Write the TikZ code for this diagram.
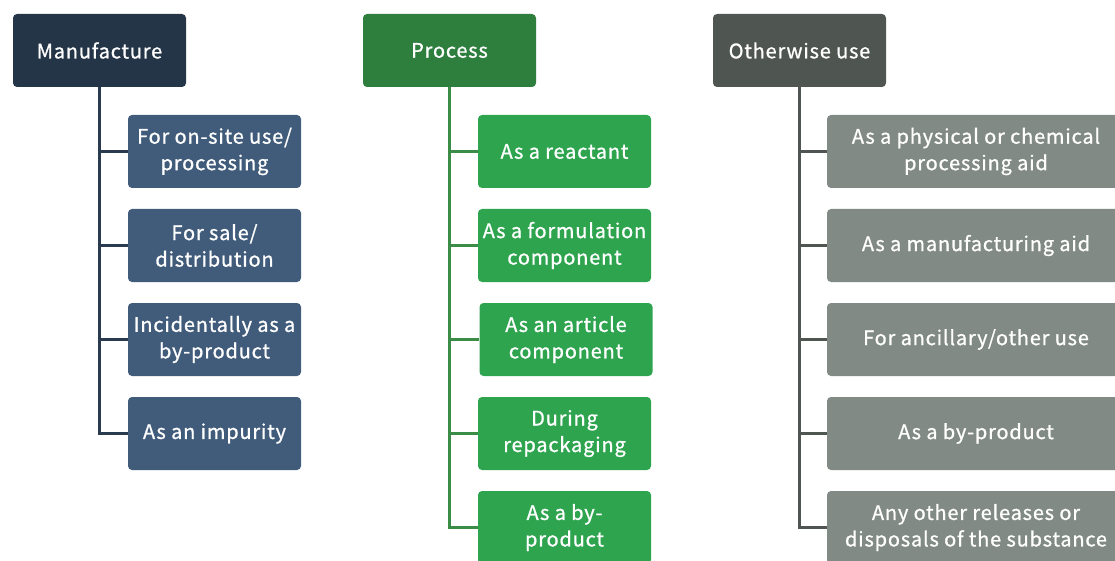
\documentclass[tikz,border=0pt]{standalone}
\usepackage{fontspec}
\setmainfont{Noto Sans CJK JP}[LetterSpace=4,FakeBold=0.9]
\begin{document}
\begin{tikzpicture}[x=1pt,y=-1pt,
  box/.style={rounded corners=4pt,minimum height=73pt,align=center,
    text=white,font=\fontsize{20}{26.5}\selectfont,inner sep=0pt},
  head/.style={box,minimum width=173pt},
  item/.style={box,minimum width=173pt},
  wideitem/.style={box,minimum width=298pt},
  link/.style={line width=3pt}]
\definecolor{navyhead}{HTML}{253548}
\definecolor{navyitem}{HTML}{415C7B}
\definecolor{navyline}{HTML}{2A3A4F}
\definecolor{greenhead}{HTML}{2E7E3E}
\definecolor{greenitem}{HTML}{2EA44F}
\definecolor{greenline}{HTML}{3A8C47}
\definecolor{greyhead}{HTML}{4F5551}
\definecolor{greyitem}{HTML}{818A84}
\definecolor{greyline}{HTML}{4F5551}
\useasboundingbox (0,0) rectangle (1115,561);
\clip (0,0) rectangle (1115,561);

% Manufacture
\node[head,fill=navyhead] (m) at (99.5,50.5) {Manufacture};
\node[item,fill=navyitem] (m1) at (214.5,151.5) {For on-site use/\\processing};
\node[item,fill=navyitem] (m2) at (214.5,245.5) {For sale/\\distribution};
\node[item,fill=navyitem] (m3) at (214.5,339.5) {Incidentally as a\\by-product};
\node[item,fill=navyitem] (m4) at (214.5,433.5) {As an impurity};
\draw[link,navyline] (m.south) |- (m4.west);
\foreach \c in {m1,m2,m3} \draw[link,navyline] (m.south |- \c.west) -- (\c.west);

% Process
\node[head,fill=greenhead] (p) at (449.5,50.5) {Process};
\node[item,fill=greenitem] (p1) at (564.5,151.5) {As a reactant};
\node[item,fill=greenitem] (p2) at (564.5,245.5) {As a formulation\\component};
\node[item,fill=greenitem] (p3) at (566,339.5) {As an article\\component};
\node[item,fill=greenitem] (p4) at (564.5,433.5) {During\\repackaging};
\node[item,fill=greenitem] (p5) at (564.5,527.5) {As a by-\\product};
\draw[link,greenline] (p.south) |- (p5.west);
\foreach \c in {p1,p2,p3,p4} \draw[link,greenline] (p.south |- \c.west) -- (\c.west);

% Otherwise use
\node[head,fill=greyhead] (o) at (799.5,50.5) {Otherwise use};
\node[wideitem,fill=greyitem] (o1) at (976,151.5) {As a physical or chemical\\processing aid};
\node[wideitem,fill=greyitem] (o2) at (976,245.5) {As a manufacturing aid};
\node[wideitem,fill=greyitem] (o3) at (976,339.5) {For ancillary/other use};
\node[wideitem,fill=greyitem] (o4) at (976,433.5) {As a by-product};
\node[wideitem,fill=greyitem] (o5) at (976,527.5) {Any other releases or\\disposals of the substance};
\draw[link,greyline] (o.south) |- (o5.west);
\foreach \c in {o1,o2,o3,o4} \draw[link,greyline] (o.south |- \c.west) -- (\c.west);
\end{tikzpicture}
\end{document}
